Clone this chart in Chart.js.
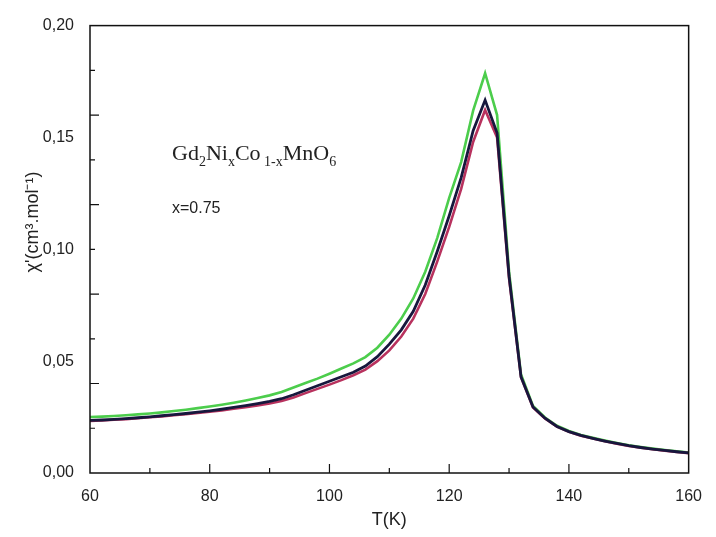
<!DOCTYPE html>
<html>
<head>
<meta charset="utf-8">
<script src="https://cdn.jsdelivr.net/npm/chart.js@4"></script>
<style>
  html, body { margin: 0; padding: 0; background: #fff; }
  #wrap { width: 716px; height: 537px; }
</style>
</head>
<body>
<div id="wrap"><canvas id="chartChi"></canvas></div>
<script>
// temperature grid (K)
const temps = [60, 62, 64, 66, 68, 70, 72, 74, 76, 78, 80, 82, 84, 86, 88, 90, 92, 94, 96, 98,
  100, 102, 104, 106, 108, 110, 112, 114, 116, 118, 120, 122, 124, 126, 128, 130, 132, 134, 136, 138,
  140, 142, 144, 146, 148, 150, 152, 154, 156, 158, 160];

// chi' (cm3/mol)
const chiBlack = [0.0235, 0.0237, 0.0240, 0.0243, 0.0247, 0.0251, 0.0256, 0.0261, 0.0266, 0.0272,
  0.0278, 0.0285, 0.0293, 0.0301, 0.0310, 0.0320, 0.0332, 0.0350, 0.0370, 0.0390,
  0.0410, 0.0430, 0.0450, 0.0478, 0.0520, 0.0576, 0.0640, 0.0723, 0.0840, 0.0990,
  0.1150, 0.1320, 0.1530, 0.1667, 0.1520, 0.0880, 0.0430, 0.0295, 0.0245, 0.0208,
  0.0185, 0.0168, 0.0155, 0.0143, 0.0132, 0.0122, 0.0114, 0.0107, 0.0101, 0.0095, 0.0090];

const chiRed = [0.0233, 0.0235, 0.0238, 0.0241, 0.0245, 0.0249, 0.0253, 0.0258, 0.0263, 0.0268,
  0.0274, 0.0280, 0.0287, 0.0294, 0.0302, 0.0311, 0.0322, 0.0338, 0.0357, 0.0376,
  0.0395, 0.0415, 0.0437, 0.0462, 0.0500, 0.0548, 0.0610, 0.0690, 0.0800, 0.0945,
  0.1100, 0.1270, 0.1480, 0.1623, 0.1500, 0.0870, 0.0428, 0.0293, 0.0244, 0.0207,
  0.0184, 0.0167, 0.0154, 0.0142, 0.0131, 0.0121, 0.0113, 0.0106, 0.0100, 0.0094, 0.0089];

const chiGreen = [0.0250, 0.0252, 0.0255, 0.0258, 0.0262, 0.0266, 0.0271, 0.0277, 0.0283, 0.0290,
  0.0297, 0.0305, 0.0314, 0.0324, 0.0335, 0.0347, 0.0362, 0.0382, 0.0402, 0.0422,
  0.0444, 0.0467, 0.0490, 0.0518, 0.0560, 0.0618, 0.0690, 0.0780, 0.0900, 0.1050,
  0.1230, 0.1390, 0.1620, 0.1787, 0.1600, 0.0900, 0.0440, 0.0300, 0.0248, 0.0211,
  0.0188, 0.0170, 0.0157, 0.0145, 0.0134, 0.0124, 0.0116, 0.0109, 0.0103, 0.0097, 0.0092];

// inner tick marks
const xTickMajor = [80, 100, 120, 140];
const xTickMinor = [70, 90, 110, 130, 150];
const yTickLong = [0.04, 0.08, 0.12, 0.16];
const yTickShort = [0.02, 0.06, 0.10, 0.14, 0.18];

function pts(ys) {
  return temps.map((t, i) => ({ x: t, y: ys[i] }));
}

// frame, inside ticks and the text notes
const framePlugin = {
  id: 'frame',
  afterDraw(chart) {
    const { ctx, chartArea: a, scales: { x, y } } = chart;
    ctx.save();
    ctx.strokeStyle = '#111';
    ctx.lineWidth = 1.5;
    ctx.strokeRect(a.left, a.top, a.right - a.left, a.bottom - a.top);

    ctx.lineWidth = 1.2;
    ctx.beginPath();
    xTickMajor.forEach(v => { const px = x.getPixelForValue(v); ctx.moveTo(px, a.bottom); ctx.lineTo(px, a.bottom - 9); });
    xTickMinor.forEach(v => { const px = x.getPixelForValue(v); ctx.moveTo(px, a.bottom); ctx.lineTo(px, a.bottom - 5); });
    yTickLong.forEach(v => { const py = y.getPixelForValue(v); ctx.moveTo(a.left, py); ctx.lineTo(a.left + 9, py); });
    yTickShort.forEach(v => { const py = y.getPixelForValue(v); ctx.moveTo(a.left, py); ctx.lineTo(a.left + 5, py); });
    ctx.stroke();

    // y title
    ctx.fillStyle = '#222';
    ctx.font = '18px "Liberation Sans", Arial, sans-serif';
    ctx.translate(33, 222);
    ctx.rotate(-Math.PI / 2);
    ctx.textAlign = 'center';
    ctx.textBaseline = 'middle';
    ctx.fillText("\u03C7'(cm\u00B3.mol\u207B\u00B9)", 0, 0);
    ctx.setTransform(1, 0, 0, 1, 0, 0);

    // formula with subscripts
    const parts = [['Gd', 0], ['2', 1], ['Ni', 0], ['x', 1], ['Co', 0], [' 1-x', 1], ['MnO', 0], ['6', 1]];
    let cx = 172;
    ctx.textAlign = 'left';
    ctx.textBaseline = 'alphabetic';
    parts.forEach(([t, sub]) => {
      ctx.font = sub ? '14px "Liberation Serif", "Times New Roman", serif' : '22px "Liberation Serif", "Times New Roman", serif';
      ctx.fillText(t, cx, sub ? 166 : 160);
      cx += ctx.measureText(t).width;
    });

    ctx.font = '16px "Liberation Sans", Arial, sans-serif';
    ctx.fillText('x=0.75', 172, 213);
    ctx.restore();
  }
};

const tickFont = { family: '"Liberation Sans", Arial, sans-serif', size: 16 };

new Chart(document.getElementById('chartChi'), {
  type: 'line',
  data: {
    datasets: [
      { label: 'black', data: pts(chiBlack), borderColor: '#17173d', borderWidth: 2.8 },
      { label: 'red', data: pts(chiRed), borderColor: '#b8325e', borderWidth: 2.6 },
      { label: 'green', data: pts(chiGreen), borderColor: '#4ccd4c', borderWidth: 2.6 }
    ]
  },
  options: {
    responsive: true,
    maintainAspectRatio: false,
    animation: false,
    elements: { point: { radius: 0 }, line: { tension: 0 } },
    layout: { padding: { top: 22, right: 21, left: 0, bottom: 0 } },
    plugins: { legend: { display: false }, tooltip: { enabled: false } },
    scales: {
      x: {
        type: 'linear',
        min: 60,
        max: 160,
        grid: { display: false, drawTicks: false },
        border: { display: false },
        ticks: { stepSize: 20, padding: 14, color: '#222', font: tickFont },
        title: { display: true, text: 'T(K)', color: '#222', font: { family: tickFont.family, size: 18 }, padding: { top: 0, bottom: 6 } },
        afterFit(scale) { scale.height = 64; }
      },
      y: {
        min: 0,
        max: 0.2,
        grid: { display: false, drawTicks: false },
        border: { display: false },
        ticks: {
          stepSize: 0.05,
          padding: 16,
          color: '#222',
          font: tickFont,
          callback: v => v.toFixed(2).replace('.', ',')
        },
        afterFit(scale) { scale.width = 90; }
      }
    }
  },
  plugins: [framePlugin]
});
</script>
</body>
</html>
